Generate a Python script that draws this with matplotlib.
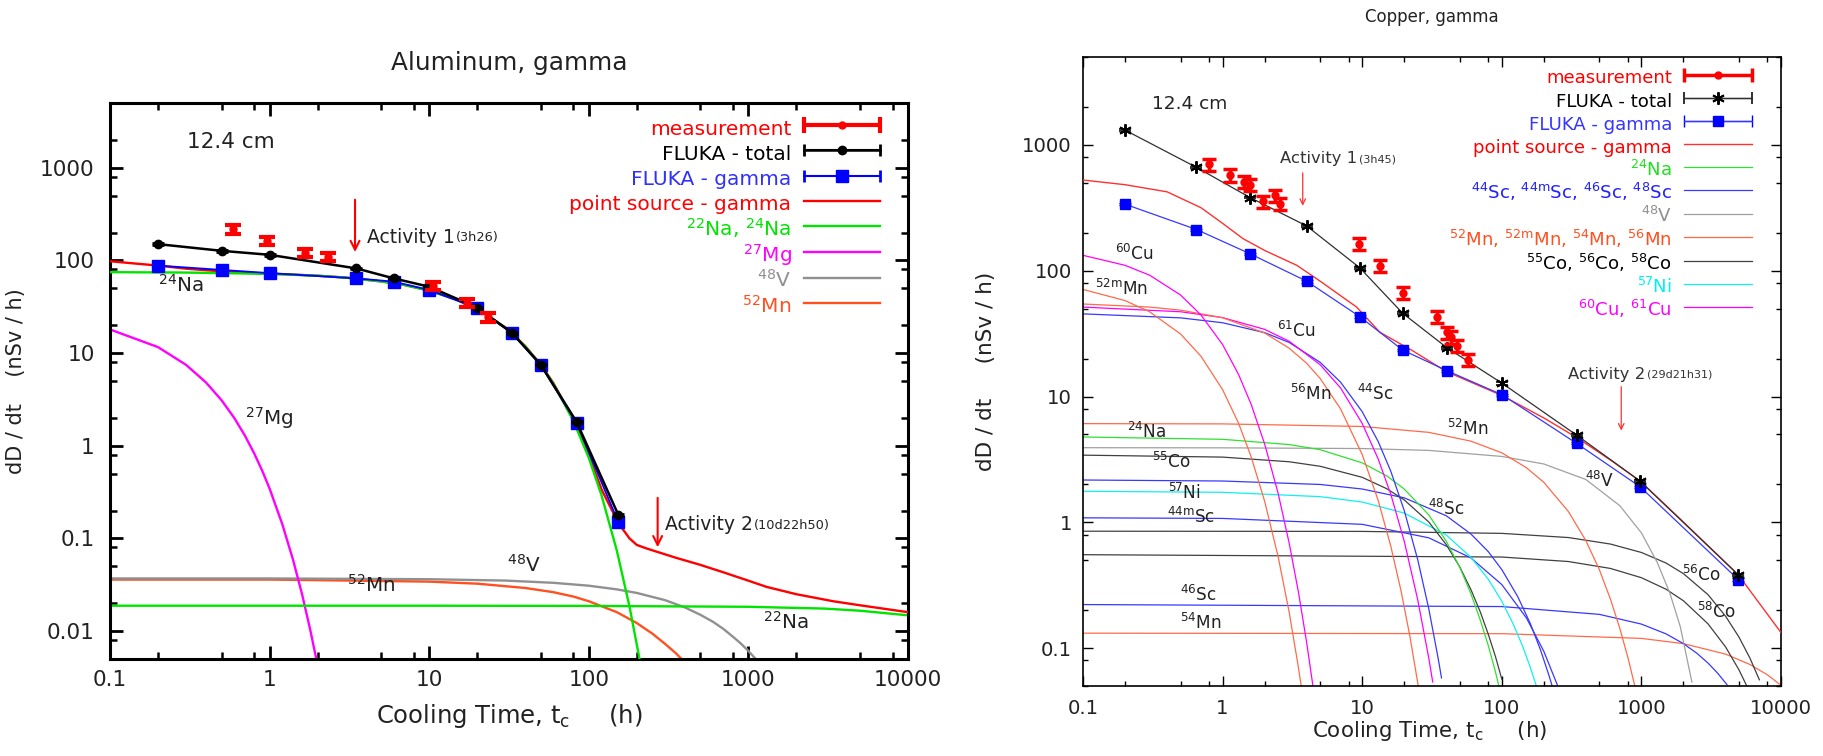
import numpy as np
import matplotlib
matplotlib.use("Agg")
import matplotlib.pyplot as plt
from matplotlib.ticker import LogLocator, FixedLocator, FuncFormatter, NullFormatter
from matplotlib.container import ErrorbarContainer
from matplotlib.legend_handler import HandlerErrorbar

plt.rcParams['font.family'] = ['DejaVu Sans']
plt.rcParams['mathtext.fontset'] = 'dejavusans'
plt.rcParams['mathtext.default'] = 'regular'

# ======================= tick values =======================
x_ticks = [0.1, 1, 10, 100, 1000, 10000]
yL_ticks = [0.01, 0.1, 1, 10, 100, 1000]
yR_ticks = [0.1, 1, 10, 100, 1000]

# ======================= Aluminum (left) =======================
al_meas_t = [0.59, 0.96, 1.67, 2.33, 10.6, 17.2, 23.4]
al_meas_v = [217, 163, 121, 110, 53.4, 35.0, 24.4]
al_meas_err = [24, 18, 13, 11, 5.5, 3.8, 2.7]

al_fluka_t = [0.2, 0.5, 1.0, 3.5, 6.0, 10, 20, 33, 50, 84, 153]
al_fluka_total = [150, 127, 115, 82, 64, 52, 31, 16.6, 7.5, 1.8, 0.18]
al_fluka_total_err = [3, 2.5, 2.3, 1.6, 1.3, 1.0, 0.6, 0.33, 0.15, 0.04, 0.004]
al_fluka_gamma = [88, 79, 73, 64, 59, 48, 30.5, 16.4, 7.4, 1.75, 0.15]
al_fluka_gamma_err = [1.8, 1.6, 1.5, 1.3, 1.2, 1.0, 0.6, 0.33, 0.15, 0.035, 0.003]

al_ps_t = [0.1, 0.2, 0.3, 0.5, 0.7, 1, 1.5, 2, 3, 5, 7, 10, 15, 20, 30, 40, 50, 60,
           80, 100, 120, 140, 161, 180, 200, 230, 266, 350, 497, 700, 1000, 1300,
           2000, 3400, 5000, 10000]
al_ps_v = [98, 88, 81.5, 76.2, 73.7, 72, 70, 68.4, 65.3, 59.4, 54.3, 47.3, 37.6, 29.9,
           18.9, 11.9, 7.5, 4.75, 1.91, 0.79, 0.34, 0.20, 0.13, 0.10, 0.085, 0.078,
           0.072, 0.062, 0.052, 0.043, 0.035, 0.030, 0.025, 0.021, 0.019, 0.016]

al_na24_t = [0.1, 0.3, 1, 2, 3, 5, 7, 10, 15, 20, 30, 40, 50, 60, 80, 100, 120, 150, 180, 210]
al_na24_v = [74.7, 74.0, 71.6, 68.4, 65.3, 59.4, 54.3, 47.2, 37.5, 29.8, 18.8, 11.8,
             7.44, 4.69, 1.86, 0.741, 0.294, 0.0734, 0.0183, 0.00458]
al_na22_t = [0.1, 1, 10, 100, 1000, 3000, 5000, 10000]
al_na22_v = [0.0188, 0.0188, 0.0188, 0.0187, 0.0183, 0.0175, 0.0166, 0.0148]
al_mg27_t = [0.1, 0.2, 0.3, 0.4, 0.5, 0.6, 0.7, 0.8, 0.9, 1.0, 1.2, 1.4, 1.6, 1.8, 2.0]
al_mg27_v = [18.0, 11.6, 7.46, 4.81, 3.10, 2.00, 1.29, 0.83, 0.535, 0.345, 0.143,
             0.0595, 0.0247, 0.0102, 0.00426]
al_v48_t = [0.1, 1, 10, 30, 60, 100, 150, 200, 300, 400, 500, 600, 700, 800, 900, 1000, 1100]
al_v48_v = [0.0370, 0.0370, 0.0363, 0.0351, 0.0332, 0.0309, 0.0282, 0.0258, 0.0216,
            0.0180, 0.0150, 0.0126, 0.0105, 0.0087, 0.0073, 0.0061, 0.0051]
al_mn52_t = [0.1, 1, 10, 20, 40, 60, 80, 100, 150, 200, 250, 300, 350, 390]
al_mn52_v = [0.0360, 0.0360, 0.0342, 0.0325, 0.0292, 0.0263, 0.0236, 0.0210, 0.0160,
             0.0122, 0.0094, 0.0073, 0.0058, 0.0048]

# ======================= Copper (right) =======================
cu_meas_t = [0.80, 1.13, 1.42, 1.57, 1.94, 2.37, 2.58, 9.5, 13.4, 19.5, 34.2, 40.7, 43, 47.5, 57.5]
cu_meas_v = [700, 575, 509, 480, 357, 398, 342, 164, 110, 66.6, 42.8, 32.4, 29.6, 25.3, 19.5]
cu_meas_err = [77, 63, 56, 53, 39, 44, 38, 18, 12, 7.3, 4.7, 3.6, 3.3, 2.8, 2.1]

cu_fluka_t = [0.2, 0.65, 1.57, 4.0, 9.6, 19.5, 40.7, 101, 344, 977, 4940]
cu_fluka_total = [1312, 663, 382, 227, 105.6, 45.9, 24.3, 12.7, 4.93, 2.13, 0.383]
cu_fluka_total_err = [20, 10, 6, 4, 2, 1, 0.5, 0.25, 0.1, 0.04, 0.008]
cu_fluka_gamma = [338, 212.6, 136.5, 82.6, 43.2, 23.4, 16.0, 10.3, 4.24, 1.92, 0.351]
cu_fluka_gamma_err = [6, 4, 3, 2, 1, 0.5, 0.35, 0.2, 0.08, 0.04, 0.007]

cu_ps_t = [0.1, 0.2, 0.4, 0.7, 1.0, 1.4, 2.0, 3.4, 5.0, 9.1, 13.4, 23, 40, 100, 200,
           344, 600, 977, 2000, 4940, 10000]
cu_ps_v = [526, 483, 424, 317, 238, 180, 145, 110.4, 82.6, 51.5, 32.4, 23.1, 15.8, 10.2,
           6.76, 4.72, 3.13, 2.13, 1.005, 0.383, 0.133]

cu_na24_t = [0.1, 1, 3, 5, 10, 15, 20, 30, 40, 50, 60, 70, 80, 90, 100]
cu_na24_v = [4.77, 4.57, 4.15, 3.78, 2.97, 2.34, 1.84, 1.145, 0.708, 0.439, 0.272, 0.168,
             0.105, 0.0649, 0.0401]
cu_mn52_t = [0.1, 1, 10, 30, 60, 100, 150, 200, 300, 400, 500, 600, 700, 800, 900]
cu_mn52_v = [6.09, 6.06, 5.78, 5.19, 4.42, 3.57, 2.72, 2.08, 1.218, 0.716, 0.420, 0.245,
             0.144, 0.0844, 0.0493]
cu_v48_t = [0.1, 1, 10, 30, 100, 200, 400, 700, 1000, 1300, 1600, 1900, 2300]
cu_v48_v = [3.92, 3.91, 3.86, 3.73, 3.34, 2.91, 2.19, 1.357, 0.825, 0.479, 0.273, 0.148,
            0.0537]
cu_co55_t = [0.1, 1, 3, 5, 10, 15, 20, 30, 40, 50, 60, 70, 80, 90, 100]
cu_co55_v = [3.42, 3.30, 3.03, 2.79, 2.28, 1.85, 1.508, 1.005, 0.665, 0.442, 0.293, 0.195,
             0.129, 0.086, 0.0567]
cu_sc48_t = [0.1, 1, 5, 10, 20, 40, 60, 80, 100, 130, 160, 190, 220, 235]
cu_sc48_v = [2.17, 2.13, 2.00, 1.84, 1.566, 1.128, 0.809, 0.585, 0.421, 0.257, 0.157,
             0.0958, 0.0585, 0.0456]
cu_ni57_t = [0.1, 1, 5, 10, 20, 40, 60, 80, 100, 120, 140, 160, 180]
cu_ni57_v = [1.765, 1.733, 1.60, 1.45, 1.185, 0.793, 0.528, 0.353, 0.236, 0.1575, 0.1057,
             0.0704, 0.0471]
cu_sc44m_t = [0.1, 1, 10, 30, 60, 100, 150, 200, 250]
cu_sc44m_v = [1.086, 1.074, 0.964, 0.753, 0.522, 0.320, 0.174, 0.0943, 0.0509]
cu_co56_t = [0.1, 10, 100, 300, 600, 1000, 1500, 2000, 3000, 4000, 5000, 6000, 7000]
cu_co56_v = [0.850, 0.847, 0.817, 0.757, 0.672, 0.576, 0.475, 0.391, 0.266, 0.180, 0.1224,
             0.0830, 0.056]
cu_co58_t = [0.1, 100, 300, 600, 1000, 1500, 2000, 3000, 4000, 5000, 5800]
cu_co58_v = [0.553, 0.530, 0.488, 0.430, 0.363, 0.294, 0.238, 0.156, 0.1026, 0.0672, 0.0478]
cu_sc46_t = [0.1, 100, 500, 1000, 1500, 2000, 2500, 3000, 3500, 4100]
cu_sc46_v = [0.222, 0.214, 0.1855, 0.1553, 0.1299, 0.1086, 0.0909, 0.0761, 0.0636, 0.0513]
cu_mn54_t = [0.1, 100, 1000, 2000, 4000, 6000, 8000, 10000]
cu_mn54_v = [0.1315, 0.1303, 0.1195, 0.1086, 0.0897, 0.0741, 0.0613, 0.0506]
cu_cu60_t = [0.1, 0.2, 0.3, 0.5, 0.7, 1, 1.3, 1.6, 2, 2.5, 3, 3.5, 4, 4.5]
cu_cu60_v = [132.6, 110.4, 92.2, 64.1, 44.5, 25.9, 15.0, 8.69, 4.20, 1.70, 0.682, 0.2756,
             0.111, 0.0449]
cu_mn52m_t = [0.1, 0.2, 0.3, 0.5, 0.7, 1, 1.3, 1.6, 2, 2.5, 3, 3.5, 3.8]
cu_mn52m_v = [71.0, 57.9, 47.2, 31.4, 20.9, 11.34, 6.15, 3.33, 1.474, 0.533, 0.1925,
              0.0692, 0.0376]
cu_mn56_t = [0.1, 0.3, 0.5, 1, 2, 3, 4, 5, 7, 10, 13, 16, 19, 22, 25.5]
cu_mn56_v = [54.4, 51.4, 48.6, 42.3, 32.0, 24.2, 18.4, 13.9, 7.97, 3.46, 1.50, 0.651,
             0.2835, 0.1231, 0.0463]
cu_cu61_t = [0.1, 0.5, 1, 2, 3, 5, 7, 10, 13, 16, 20, 25, 30, 32]
cu_cu61_v = [51.4, 47.2, 42.4, 34.2, 27.5, 17.9, 11.7, 6.11, 3.20, 1.683, 0.709, 0.242,
             0.0830, 0.0538]
cu_sc44_t = [0.1, 0.5, 1, 2, 3, 5, 7, 10, 13, 16, 20, 25, 30, 35, 37]
cu_sc44_v = [45.4, 42.2, 38.6, 32.2, 26.9, 18.7, 13.0, 7.58, 4.40, 2.56, 1.242, 0.504,
             0.205, 0.0830, 0.0579]

# ======================= colours =======================
RED = '#ff0000'
GREEN = '#00e400'
MAG = '#ff00ff'
GREY = '#909090'
ORANGE = '#ff5020'
BLUE = '#0000ff'
R_RED = '#ff3030'
R_BLUE = '#3838ff'
R_GREEN = '#30e030'
R_GREY = '#a0a0a0'
R_ORANGE = '#ff6a4a'
R_DARK = '#404040'
R_CYAN = '#10f0f0'
TXT = '#222222'

fig = plt.figure(figsize=(18.23, 7.56), dpi=100)
axL = fig.add_axes([110 / 1823, 97 / 756, 798 / 1823, 556 / 756])
axR = fig.add_axes([1083 / 1823, 70 / 756, 698 / 1823, 629 / 756])


def style_axes(ax, ylim, yticks, spine_w, maj_len, min_len, maj_w, min_w, labsize, xpad, ypad):
    ax.set_xscale('log')
    ax.set_yscale('log')
    ax.set_xlim(0.1, 1e4)
    ax.set_ylim(*ylim)
    for s in ax.spines.values():
        s.set_linewidth(spine_w)
    ax.xaxis.set_major_locator(FixedLocator(x_ticks))
    ax.yaxis.set_major_locator(FixedLocator(yticks))
    for axis in (ax.xaxis, ax.yaxis):
        axis.set_minor_locator(LogLocator(base=10, subs=(2, 5, 8), numticks=20))
        axis.set_minor_formatter(NullFormatter())
        axis.set_major_formatter(FuncFormatter(lambda v, p: f'{v:g}'))
    ax.tick_params(which='both', direction='in', top=True, right=True, labelsize=labsize,
                   labelcolor=TXT)
    ax.tick_params(which='major', length=maj_len, width=maj_w)
    ax.tick_params(which='minor', length=min_len, width=min_w)
    ax.tick_params(axis='x', which='major', pad=xpad)
    ax.tick_params(axis='y', which='major', pad=ypad)


style_axes(axL, (0.005, 5000), yL_ticks, 2.2, 9.5, 5, 2.0, 1.8, 15.6, 8, 11)
style_axes(axR, (0.05, 5000), yR_ticks, 1.2, 7, 3.6, 1.0, 1.0, 14.2, 9, 8)

# ---------------- left panel ----------------
lwL = 1.7
l_mn, = axL.plot(al_mn52_t, al_mn52_v, color=ORANGE, lw=lwL, zorder=2)
l_v, = axL.plot(al_v48_t, al_v48_v, color=GREY, lw=lwL, zorder=2)
l_mg, = axL.plot(al_mg27_t, al_mg27_v, color=MAG, lw=lwL, zorder=2)
axL.plot(al_na22_t, al_na22_v, color=GREEN, lw=lwL, zorder=2.2)
l_ps, = axL.plot(al_ps_t, al_ps_v, color=RED, lw=lwL, zorder=3)
l_na, = axL.plot(al_na24_t, al_na24_v, color=GREEN, lw=lwL, zorder=3.2)

eb_gL = axL.errorbar(al_fluka_t, al_fluka_gamma, yerr=al_fluka_gamma_err, fmt='-s',
                     color=BLUE, ms=8, lw=1.3, elinewidth=1.5, capsize=4, capthick=2, zorder=4)
eb_tL = axL.errorbar(al_fluka_t, al_fluka_total, yerr=al_fluka_total_err, fmt='-o',
                     color='black', ms=6, lw=1.8, elinewidth=1.5, capsize=4, capthick=2, zorder=4.5)
eb_mL = axL.errorbar(al_meas_t, al_meas_v, yerr=al_meas_err, fmt='o', color=RED, ms=5,
                     elinewidth=3, capsize=6, capthick=3, zorder=6)


def leg_eb(eb, label):
    return ErrorbarContainer(eb.lines, has_xerr=True, has_yerr=False, label=label)


hlenL = 3.8
handlesL = [leg_eb(eb_mL, 'measurement'), leg_eb(eb_tL, 'FLUKA - total'),
            leg_eb(eb_gL, 'FLUKA - gamma'), l_ps, l_na, l_mg, l_v, l_mn]
labelsL = ['measurement', 'FLUKA - total', 'FLUKA - gamma', 'point source - gamma',
           '$^{22}$Na, $^{24}$Na', '$^{27}$Mg', '$^{48}$V', '$^{52}$Mn']
colorsL = [RED, 'black', '#3030ff', RED, GREEN, MAG, GREY, ORANGE]
legL = axL.legend(handlesL, labelsL, loc='upper right', bbox_to_anchor=(0.965, 0.9775),
                  frameon=False, markerfirst=False, fontsize=14.5, handlelength=hlenL,
                  handletextpad=0.6, handleheight=1.55, labelspacing=0.0, borderpad=0,
                  borderaxespad=0,
                  handler_map={ErrorbarContainer: HandlerErrorbar(xerr_size=hlenL / 2)})
for t, c in zip(legL.get_texts(), colorsL):
    t.set_color(c)

axL.text(0.304, 1893, '12.4 cm', fontsize=15.5, va='center', ha='left', color=TXT)
for (tx, vy, s) in [(0.2, 54, '$^{24}$Na'), (0.70, 2.0, '$^{27}$Mg'),
                    (3.05, 0.0316, '$^{52}$Mn'), (30.7, 0.052, '$^{48}$V'),
                    (1240, 0.0126, '$^{22}$Na')]:
    axL.text(tx, vy, s, fontsize=14.3, va='center', ha='left', color=TXT)

axL.annotate('', xy=(3.43, 115), xytext=(3.43, 484),
             arrowprops=dict(arrowstyle='->', color=RED, lw=1.5, mutation_scale=16))
ta1 = axL.text(4.07, 179, 'Activity 1', fontsize=13.5, va='center', ha='left', color=TXT)
axL.annotate('(3h26)', xy=(1, 0.12), xycoords=ta1, xytext=(1, 0), textcoords='offset points',
             fontsize=9.3, va='bottom', ha='left', color=TXT)
axL.annotate('', xy=(270, 0.075), xytext=(270, 0.294),
             arrowprops=dict(arrowstyle='->', color=RED, lw=1.5, mutation_scale=16))
ta2 = axL.text(300, 0.14, 'Activity 2', fontsize=13.5, va='center', ha='left', color=TXT)
axL.annotate('(10d22h50)', xy=(1, 0.12), xycoords=ta2, xytext=(1, 0),
             textcoords='offset points', fontsize=9.3, va='bottom', ha='left', color=TXT)

axL.set_title('Aluminum, gamma', fontsize=17.8, pad=24, color=TXT)
axL.set_xlabel('Cooling Time, t$_c$     (h)', fontsize=17.5, color=TXT)
axL.set_ylabel('dD / dt    (nSv / h)', fontsize=15, color=TXT)
axL.xaxis.set_label_coords(0.5, -0.078)
axL.yaxis.set_label_coords((26 - 110) / 798, 0.5)

# ---------------- right panel ----------------
lwR = 0.9
axR.plot(cu_mn54_t, cu_mn54_v, color=R_ORANGE, lw=lwR)
axR.plot(cu_sc46_t, cu_sc46_v, color=R_BLUE, lw=lwR)
axR.plot(cu_co58_t, cu_co58_v, color=R_DARK, lw=lwR)
axR.plot(cu_co56_t, cu_co56_v, color=R_DARK, lw=lwR)
axR.plot(cu_sc44m_t, cu_sc44m_v, color=R_BLUE, lw=lwR)
r_ni, = axR.plot(cu_ni57_t, cu_ni57_v, color=R_CYAN, lw=lwR)
r_sc, = axR.plot(cu_sc48_t, cu_sc48_v, color=R_BLUE, lw=lwR)
r_co, = axR.plot(cu_co55_t, cu_co55_v, color=R_DARK, lw=lwR)
r_v, = axR.plot(cu_v48_t, cu_v48_v, color=R_GREY, lw=lwR)
r_na, = axR.plot(cu_na24_t, cu_na24_v, color=R_GREEN, lw=lwR)
r_mn, = axR.plot(cu_mn52_t, cu_mn52_v, color=R_ORANGE, lw=lwR)
axR.plot(cu_sc44_t, cu_sc44_v, color=R_BLUE, lw=lwR)
r_cu, = axR.plot(cu_cu61_t, cu_cu61_v, color=MAG, lw=lwR)
axR.plot(cu_mn56_t, cu_mn56_v, color=R_ORANGE, lw=lwR)
axR.plot(cu_mn52m_t, cu_mn52m_v, color=R_ORANGE, lw=lwR)
axR.plot(cu_cu60_t, cu_cu60_v, color=MAG, lw=lwR)
r_ps, = axR.plot(cu_ps_t, cu_ps_v, color=R_RED, lw=1.0, zorder=3)

eb_gR = axR.errorbar(cu_fluka_t, cu_fluka_gamma, yerr=cu_fluka_gamma_err, fmt='-s',
                     color=BLUE, ms=7.5, lw=0.9, elinewidth=1, capsize=4, capthick=1,
                     zorder=4)
eb_gR.lines[0].set_color(R_BLUE)
eb_gR.lines[0].set_markerfacecolor(BLUE)
eb_gR.lines[0].set_markeredgecolor(BLUE)
eb_tR = axR.errorbar(cu_fluka_t, cu_fluka_total, yerr=cu_fluka_total_err, fmt='-',
                     marker=(6, 2, 0), color='#303030', mec='black', ms=9, mew=1.4, lw=0.9,
                     elinewidth=1, capsize=4, capthick=1, zorder=4.5)
eb_mR = axR.errorbar(cu_meas_t, cu_meas_v, yerr=cu_meas_err, fmt='o', color=RED, ms=5,
                     elinewidth=2.5, capsize=5, capthick=2.5, zorder=6)

hlenR = 3.7
handlesR = [leg_eb(eb_mR, 'measurement'), leg_eb(eb_tR, 'FLUKA - total'),
            leg_eb(eb_gR, 'FLUKA - gamma'), r_ps, r_na, r_sc, r_v, r_mn, r_co, r_ni, r_cu]
labelsR = ['measurement', 'FLUKA - total', 'FLUKA - gamma', 'point source - gamma',
           '$^{24}$Na', '$^{44}$Sc, $^{44m}$Sc, $^{46}$Sc, $^{48}$Sc', '$^{48}$V',
           '$^{52}$Mn, $^{52m}$Mn, $^{54}$Mn, $^{56}$Mn', '$^{55}$Co, $^{56}$Co, $^{58}$Co',
           '$^{57}$Ni', '$^{60}$Cu, $^{61}$Cu']
colorsR = [RED, 'black', '#3535ff', RED, '#20e020', '#2020ff', GREY, ORANGE, 'black',
           '#00f0f0', MAG]
legR = axR.legend(handlesR, labelsR, loc='upper right', bbox_to_anchor=(0.958, 0.9857),
                  frameon=False, markerfirst=False, fontsize=13.1, handlelength=hlenR,
                  handletextpad=0.68, handleheight=1.57, labelspacing=0.0, borderpad=0,
                  borderaxespad=0,
                  handler_map={ErrorbarContainer: HandlerErrorbar(xerr_size=hlenR / 2)})
for t, c in zip(legR.get_texts(), colorsR):
    t.set_color(c)

axR.text(0.312, 2114, '12.4 cm', fontsize=13.3, va='center', ha='left', color=TXT)
for (tx, vy, s) in [(0.170, 136.5, '$^{60}$Cu'), (0.122, 71.8, '$^{52m}$Mn'),
                    (2.45, 33.2, '$^{61}$Cu'), (3.04, 10.44, '$^{56}$Mn'),
                    (9.18, 10.44, '$^{44}$Sc'), (0.207, 5.21, '$^{24}$Na'),
                    (0.312, 3.00, '$^{55}$Co'), (0.406, 1.72, '$^{57}$Ni'),
                    (0.399, 1.10, '$^{44m}$Sc'), (29.6, 1.267, '$^{48}$Sc'),
                    (0.496, 0.266, '$^{46}$Sc'), (0.496, 0.159, '$^{54}$Mn'),
                    (40.5, 5.49, '$^{52}$Mn'), (394, 2.117, '$^{48}$V'),
                    (1954, 0.383, '$^{56}$Co'), (2500, 0.195, '$^{58}$Co')]:
    axR.text(tx, vy, s, fontsize=12.2, va='center', ha='left', color=TXT)

axR.annotate('', xy=(3.75, 312), xytext=(3.75, 631),
             arrowprops=dict(arrowstyle='->', color=R_RED, lw=0.9, mutation_scale=10))
tb1 = axR.text(2.58, 781, 'Activity 1', fontsize=11.8, va='center', ha='left', color='#333333')
axR.annotate('(3h45)', xy=(1, 0.12), xycoords=tb1, xytext=(1, 0), textcoords='offset points',
             fontsize=8, va='bottom', ha='left', color='#333333')
axR.annotate('', xy=(717, 5.1), xytext=(717, 12.6),
             arrowprops=dict(arrowstyle='->', color=R_RED, lw=0.9, mutation_scale=10))
tb2 = axR.text(298, 15.1, 'Activity 2', fontsize=11.8, va='center', ha='left', color='#333333')
axR.annotate('(29d21h31)', xy=(1, 0.12), xycoords=tb2, xytext=(1, 0),
             textcoords='offset points', fontsize=8, va='bottom', ha='left', color='#333333')

axR.set_title('Copper, gamma', fontsize=12, pad=25, color=TXT)
axR.set_xlabel('Cooling Time, t$_c$     (h)', fontsize=15.4, color=TXT)
axR.set_ylabel('dD / dt     (nSv / h)', fontsize=15.5, color=TXT)
axR.xaxis.set_label_coords(0.497, -0.052)
axR.yaxis.set_label_coords((996 - 1083) / 698, 0.5)

fig.savefig('out.png', dpi=100)
